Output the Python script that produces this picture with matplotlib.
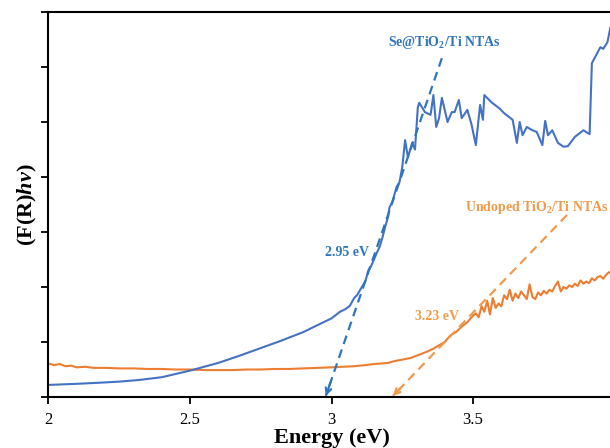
import matplotlib
matplotlib.use("Agg")
import matplotlib.pyplot as plt

# ---- data ----
blue_x = [2.00, 2.10, 2.18, 2.25, 2.32, 2.40, 2.50, 2.60, 2.68, 2.75, 2.82, 2.90, 2.96, 3.00,
          3.03, 3.05, 3.065, 3.08, 3.09, 3.105, 3.12, 3.13, 3.14, 3.15, 3.16, 3.17, 3.18, 3.19,
          3.20, 3.205, 3.215, 3.23, 3.24, 3.25, 3.26, 3.27, 3.285, 3.295, 3.305, 3.31, 3.33,
          3.35, 3.36, 3.37, 3.38, 3.39, 3.41, 3.425, 3.435, 3.45, 3.46, 3.48, 3.495, 3.51,
          3.525, 3.535, 3.54, 3.565, 3.595, 3.61, 3.64, 3.655, 3.665, 3.675, 3.69, 3.71,
          3.725, 3.745, 3.755, 3.765, 3.78, 3.80, 3.82, 3.835, 3.86, 3.89, 3.905, 3.912,
          3.92, 3.95, 3.96, 3.975, 3.985, 4.00]
blue_y = [0.22, 0.24, 0.26, 0.28, 0.31, 0.36, 0.48, 0.62, 0.76, 0.89, 1.02, 1.18, 1.33, 1.43,
          1.55, 1.60, 1.66, 1.80, 1.85, 1.98, 2.11, 2.30, 2.38, 2.50, 2.62, 2.73, 2.90, 3.10,
          3.28, 3.45, 3.55, 3.82, 3.90, 4.18, 4.67, 4.36, 4.62, 4.50, 5.27, 5.35, 5.18,
          5.13, 5.49, 4.91, 5.07, 5.44, 5.00, 5.18, 5.18, 5.40, 5.07, 5.22, 4.95, 4.58,
          5.31, 5.04, 5.49, 5.36, 5.24, 5.16, 5.04, 4.62, 5.00, 4.76, 4.91, 4.85,
          4.82, 4.58, 5.02, 4.76, 4.85, 4.62, 4.55, 4.56, 4.73, 4.85, 4.80, 4.78,
          6.07, 6.36, 6.33, 6.45, 6.71, 6.82]

orange_x = [2.00, 2.02, 2.04, 2.06, 2.08, 2.10, 2.13, 2.16, 2.20, 2.25, 2.30, 2.35, 2.40, 2.45,
            2.50, 2.55, 2.60, 2.65, 2.70, 2.75, 2.80, 2.85, 2.90, 2.95, 3.00, 3.04, 3.08, 3.12,
            3.15, 3.18, 3.20, 3.22, 3.25, 3.28, 3.30, 3.32, 3.34, 3.36, 3.38, 3.40, 3.42, 3.44,
            3.46, 3.48, 3.50, 3.51, 3.52, 3.53, 3.54, 3.55, 3.56, 3.57, 3.58, 3.59, 3.60, 3.61,
            3.62, 3.63, 3.64, 3.65, 3.66, 3.67, 3.68, 3.69, 3.70, 3.71, 3.72, 3.73, 3.74, 3.75,
            3.76, 3.77, 3.78, 3.79, 3.80, 3.81, 3.82, 3.83, 3.84, 3.85, 3.86, 3.87, 3.88, 3.89,
            3.90, 3.91, 3.92, 3.93, 3.94, 3.95, 3.96, 3.97, 3.98, 3.99, 4.00]
orange_y = [0.61, 0.58, 0.60, 0.56, 0.57, 0.54, 0.55, 0.53, 0.53, 0.52, 0.52, 0.51, 0.51, 0.50,
            0.50, 0.49, 0.49, 0.49, 0.50, 0.50, 0.51, 0.51, 0.52, 0.53, 0.54, 0.55, 0.56, 0.58,
            0.60, 0.61, 0.62, 0.65, 0.68, 0.71, 0.75, 0.79, 0.83, 0.88, 0.94, 1.00, 1.12, 1.18,
            1.28, 1.36, 1.48, 1.52, 1.45, 1.65, 1.55, 1.75, 1.50, 1.80, 1.62, 1.70, 1.65, 1.85,
            1.78, 1.95, 1.75, 1.88, 1.80, 1.92, 1.85, 1.78, 2.05, 1.82, 1.78, 1.90, 1.85, 1.93,
            1.88, 1.95, 1.92, 2.02, 2.10, 1.92, 2.00, 1.97, 2.03, 2.00, 2.06, 2.02, 2.12, 2.06,
            2.10, 2.07, 2.16, 2.12, 2.18, 2.20, 2.15, 2.22, 2.27, 2.24, 2.30]

# tangent lines (start point, arrow tip)
blue_tangent_x = [3.39, 2.98]
blue_tangent_y = [6.16, 0.02]
orange_tangent_x = [3.832, 3.217]
orange_tangent_y = [3.31, 0.02]

x_ticks = [2, 2.5, 3, 3.5, 4]
x_ticklabels = ["2", "2.5", "3", "3.5", "4"]
y_ticks = [0, 1, 2, 3, 4, 5, 6, 7]

BLUE = "#4472C4"
ORANGE = "#ED7D31"
BLUE_T = "#2E75C0"
ORANGE_T = "#F39A4A"

plt.rcParams["font.family"] = ["Liberation Serif", "DejaVu Serif"]
plt.rcParams["mathtext.fontset"] = "custom"
plt.rcParams["mathtext.rm"] = "Liberation Serif:bold"
plt.rcParams["mathtext.it"] = "Liberation Serif:italic:bold"
plt.rcParams["mathtext.bf"] = "Liberation Serif:bold"

fig = plt.figure(figsize=(6.10, 4.48), dpi=100)
ax = fig.add_axes([0.0795, 0.1138, 0.9279, 0.8594])

ax.plot(orange_x, orange_y, color=ORANGE, lw=1.5)
ax.plot(blue_x, blue_y, color=BLUE, lw=1.5)

for tx, ty, c in [(blue_tangent_x, blue_tangent_y, BLUE_T),
                  (orange_tangent_x, orange_tangent_y, ORANGE_T)]:
    ax.plot(tx, ty, color=c, lw=1.6, ls=(0, (4, 2.6)))
    fx = tx[1] + (tx[0] - tx[1]) * 0.04
    fy = ty[1] + (ty[0] - ty[1]) * 0.04
    ax.annotate("", xy=(tx[1], ty[1]), xytext=(fx, fy),
                arrowprops=dict(arrowstyle="->", color=c, lw=1.6,
                                shrinkA=0, shrinkB=0, mutation_scale=10))

ax.text(3.40, 6.44, "Se@TiO$_\\mathregular{2}$/Ti NTAs", color=BLUE_T, fontsize=10,
        fontweight="bold", ha="center", va="center")
ax.text(3.055, 2.62, "2.95 eV", color=BLUE_T, fontsize=10, fontweight="bold",
        ha="center", va="center")
ax.text(3.726, 3.45, "Undoped TiO$_\\mathregular{2}$/Ti NTAs", color=ORANGE_T, fontsize=10,
        fontweight="bold", ha="center", va="center")
ax.text(3.372, 1.47, "3.23 eV", color=ORANGE_T, fontsize=10, fontweight="bold",
        ha="center", va="center")

ax.set_xlim(2, 4)
ax.set_ylim(0, 7)
ax.set_xticks(x_ticks)
ax.set_xticklabels(x_ticklabels, fontsize=12)
ax.set_yticks(y_ticks)
ax.set_yticklabels([])
ax.tick_params(axis="both", direction="out", length=5, width=1.3, color="black")
ax.tick_params(axis="x", pad=6)
for s in ax.spines.values():
    s.set_linewidth(1.5)
    s.set_color("black")

ax.set_xlabel("Energy (eV)", fontsize=16, fontweight="bold", labelpad=0)
ax.set_ylabel("(F(R)$h\\nu$)", fontsize=16, fontweight="bold", labelpad=-2)

fig.savefig("out.png", dpi=100)
